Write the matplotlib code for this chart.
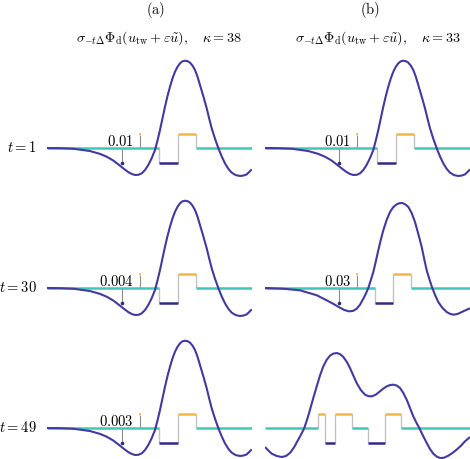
import matplotlib
matplotlib.use("Agg")
import matplotlib.pyplot as plt

plt.rcParams["mathtext.fontset"] = "cm"
plt.rcParams["font.family"] = "serif"

# ---- data (x in panel pixels 0..205, y in step units) ----
curve_a_x = [0, 13, 26.6, 43.3, 53, 60, 66.7, 73.3, 77.5, 81.6, 85, 88.3, 91.7, 95, 98.3,
             101.6, 105, 108.3, 110.8, 113.3, 115.8, 118.3, 120.8, 123.3, 125.8, 128.3,
             130.8, 133.3, 135.8, 138.3, 140.8, 143.3, 145.8, 148.3, 150.8, 153.3, 156.7,
             160, 162.5, 165, 168.3, 171.6, 175, 178.3, 181.7, 185, 189, 193.3, 196.7,
             200, 203, 205]
curve_a_y = [0, -0.01, -0.05, -0.21, -0.40, -0.60, -0.87, -1.22, -1.45, -1.66, -1.79, -1.86,
             -1.85, -1.75, -1.52, -1.17, -0.70, -0.14, 0.52, 1.24, 2.05, 2.85, 3.58, 4.23,
             4.80, 5.26, 5.60, 5.84, 5.98, 6.02, 5.99, 5.89, 5.68, 5.38, 4.92, 4.34, 3.55,
             2.74, 2.03, 1.36, 0.64, 0, -0.58, -1.06, -1.44, -1.70, -1.87, -1.93, -1.90,
             -1.82, -1.62, -1.47]

curve_b2_x = [0, 18.3, 35, 51.7, 58, 65, 70, 75, 79.5, 84, 88, 91.7, 95, 98.3, 100.8, 103.3,
              105.8, 108.3, 110.8, 113.3, 115.8, 118.3, 121.7, 125, 128.3, 131.7, 134.5,
              137.3, 140.3, 143.3, 146.7, 150, 153.3, 156.7, 159.2, 161.7, 164.5, 167.3,
              170.3, 173.3, 177.5, 181.7, 185.3, 189, 193, 196.7, 200, 205]
curve_b2_y = [0, -0.05, -0.16, -0.50, -0.72, -0.97, -1.16, -1.36, -1.52, -1.61, -1.58, -1.43,
              -1.15, -0.74, -0.40, 0, 0.54, 1.10, 1.83, 2.60, 3.32, 3.98, 4.70, 5.24, 5.58,
              5.77, 5.85, 5.86, 5.77, 5.59, 5.17, 4.55, 3.73, 2.83, 2.00, 1.22, 0.58, 0,
              -0.52, -0.97, -1.38, -1.66, -1.79, -1.84, -1.78, -1.66, -1.55, -1.40]

curve_b3_x = [0, 3.3, 6.7, 11.7, 16.7, 21, 25, 29, 33.3, 36.3, 39.3, 42.2, 45, 48.3, 51.7, 55,
              58.3, 61.7, 65, 68.3, 71.7, 75, 78.3, 81.7, 85, 88.3, 91.7, 95.8, 100, 103.3,
              106.7, 110.8, 115, 118.3, 121.7, 125, 128.3, 131.7, 135, 138.3, 141.7, 145,
              148.3, 151.3, 154.3, 158, 161.7, 165, 168.3, 171.7, 175, 179, 183.3, 187.5,
              191.7, 196, 200, 205]
curve_b3_y = [-1.31, -1.55, -1.77, -1.93, -2.0, -1.93, -1.72, -1.34, -0.80, -0.42, 0, 0.60,
              1.26, 2.07, 2.87, 3.62, 4.25, 4.70, 4.99, 5.13, 5.17, 5.10, 4.90, 4.57, 4.14,
              3.62, 3.10, 2.62, 2.30, 2.20, 2.18, 2.30, 2.53, 2.72, 2.87, 2.96, 2.99, 2.93,
              2.76, 2.42, 1.95, 1.38, 0.80, 0.38, 0, -0.53, -1.03, -1.45, -1.77, -1.97,
              -2.07, -2.05, -1.91, -1.72, -1.49, -1.22, -0.92, -0.62]

# three-state step (0 / -1 / +1) between the edges
steps_a_edges = [0, 112, 131, 149, 205]
steps_a_states = [0, -1, 1, 0]
steps_b2_edges = [0, 110, 128.3, 145.7, 205]
steps_b2_states = [0, -1, 1, 0]
steps_b3_edges = [0, 52.7, 59.7, 70, 86.7, 103.3, 120, 135.7, 205]
steps_b3_states = [0, 1, -1, 1, 0, -1, 1, 0]

spike_a = [75, 93.5]
spike_b = [74.3, 92.3]
eps_a = ["0.01", "0.004", "0.003"]
eps_b = ["0.01", "0.03", None]

row_labels = [r"$t = 1$", r"$t = 30$", r"$t = 49$"]
kappas = [38, 33]
col_tags = [r"$\mathrm{(a)}$", r"$\mathrm{(b)}$"]

# ---- colours ----
WAVE = "#423a9e"
DARK = "#2e2a88"
TEAL = "#3fc8b8"
ORANGE = "#f1b648"
GREY = "#c2c2c2"
SPIKE = "#8c8c8c"
state_colors = {0: TEAL, -1: DARK, 1: ORANGE}

W, H = 470, 459
fig = plt.figure(figsize=(W / 100, H / 100), dpi=100)

U = 14.5
col_left = [46.7, 265]
row_zero = [148, 288, 428]
ylo, yhi = -3, 6.5


def add_panel(c, r):
    bottom = 1 - (row_zero[r] - ylo * U) / H
    ax = fig.add_axes([col_left[c] / W, bottom, 205 / W, (yhi - ylo) * U / H])
    ax.set_xlim(0, 205)
    ax.set_ylim(ylo, yhi)
    ax.axis("off")
    return ax


def draw_steps(ax, edges, states):
    for i in range(1, len(states)):
        ax.vlines(edges[i], states[i - 1], states[i], color=GREY, lw=1.0, zorder=1)
    for i, s in enumerate(states):
        ax.hlines(s, edges[i], edges[i + 1], color=state_colors[s], lw=1.8, zorder=2)


def draw_spikes(ax, xs, label):
    xd, xu = xs
    ax.vlines(xd, -1, 0, color=SPIKE, lw=0.8, zorder=1)
    ax.plot([xd], [-1.0], "o", ms=1.6, color=DARK, zorder=3)
    ax.vlines(xu, 0, 0.9, color=SPIKE, lw=0.8, zorder=1)
    ax.vlines(xu, 0.88, 1.06, color=ORANGE, lw=1.2, zorder=3)
    ax.text(xu - 6.3, 0.14, "$" + label + "$", ha="right", va="baseline", fontsize=10.5)


panels = [
    (0, 0, curve_a_x, curve_a_y, steps_a_edges, steps_a_states, spike_a, eps_a[0]),
    (0, 1, curve_a_x, curve_a_y, steps_a_edges, steps_a_states, spike_a, eps_a[1]),
    (0, 2, curve_a_x, curve_a_y, steps_a_edges, steps_a_states, spike_a, eps_a[2]),
    (1, 0, curve_a_x, curve_a_y, steps_a_edges, steps_a_states, spike_b, eps_b[0]),
    (1, 1, curve_b2_x, curve_b2_y, steps_b2_edges, steps_b2_states, spike_b, eps_b[1]),
    (1, 2, curve_b3_x, curve_b3_y, steps_b3_edges, steps_b3_states, None, eps_b[2]),
]

for c, r, cx, cy, edges, states, spk, lab in panels:
    ax = add_panel(c, r)
    draw_steps(ax, edges, states)
    if spk is not None:
        draw_spikes(ax, spk, lab)
    ax.plot(cx, cy, color=WAVE, lw=1.5, zorder=4, solid_capstyle="butt")

for r, lab in enumerate(row_labels):
    fig.text(37 / W, 1 - row_zero[r] / H, lab, ha="right", va="center", fontsize=10.5)

tag_x = [155.5, 370]
title_x = [159, 378]
for c in range(2):
    fig.text(tag_x[c] / W, 1 - 10 / H, col_tags[c], ha="center", va="center", fontsize=10.5)
    fig.text(title_x[c] / W, 1 - 38 / H,
             r"$\sigma_{-t\Delta}\Phi_{\mathrm{d}}(u_{\mathrm{tw}}+\varepsilon\tilde{u}),\quad\kappa = %d$" % kappas[c],
             ha="center", va="center", fontsize=10.2)

fig.savefig("out.png", dpi=100)
